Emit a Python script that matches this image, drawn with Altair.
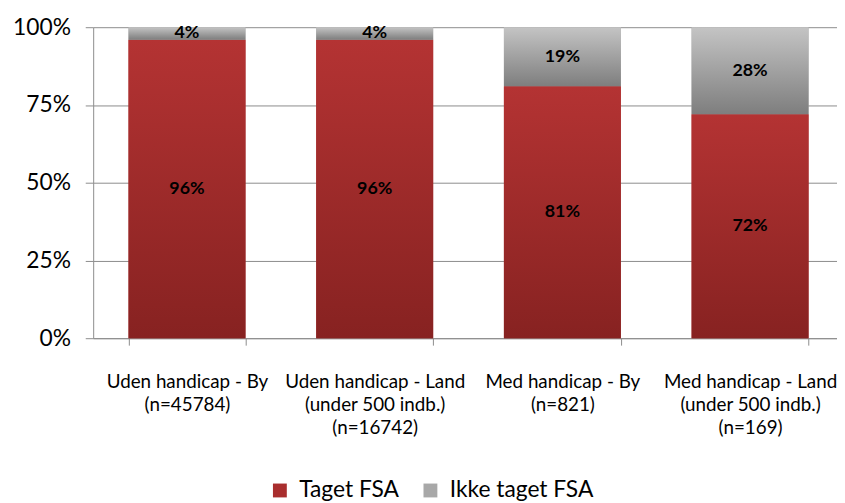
import altair as alt
import pandas as pd

# ---- data ----
categories = [
    "Uden handicap - By|(n=45784)",
    "Uden handicap - Land|(under 500 indb.)|(n=16742)",
    "Med handicap - By|(n=821)",
    "Med handicap - Land|(under 500 indb.)|(n=169)",
]
series = ["Taget FSA", "Ikke taget FSA"]
taget_fsa = [96, 96, 81, 72]
ikke_taget_fsa = [4, 4, 19, 28]
y_ticks = [0, 0.25, 0.5, 0.75, 1.0]

rows = []
for i, c in enumerate(categories):
    rows.append({"kategori": c, "serie": series[0], "andel": taget_fsa[i] / 100, "orden": 0})
    rows.append({"kategori": c, "serie": series[1], "andel": ikke_taget_fsa[i] / 100, "orden": 1})
df = pd.DataFrame(rows)

FONT = "Lato"
AXIS_GREY = "#8C8C8C"

base = (
    alt.Chart(df)
    .transform_stack(stack="andel", groupby=["kategori"], as_=["y0", "y1"],
                     sort=[alt.SortField("orden", order="ascending")])
    .transform_calculate(mid="(datum.y0 + datum.y1) / 2")
)

# the original chart is cut off at the right edge: the band scale keeps the
# reference step and pushes the last category partly beyond the view
x_enc = alt.X(
    "kategori:N",
    sort=categories,
    scale=alt.Scale(paddingInner=0.377, paddingOuter=0.170, align=0.554),
    axis=alt.Axis(
        title=None,
        labelExpr="split(datum.label, '|')",
        labelAngle=0,
        labelFont=FONT,
        labelFontSize=19,
        labelLineHeight=23,
        labelColor="#000000",
        labelPadding=28,
        labelLimit=0,
        tickBand="extent",
        tickSize=7,
        tickColor=AXIS_GREY,
        domainColor=AXIS_GREY,
        grid=False,
    ),
)
y_scale = alt.Scale(domain=[0, 1], nice=False)

legend_layer = base.mark_bar().encode(
    x=x_enc,
    y=alt.Y(
        "y0:Q",
        scale=y_scale,
        axis=alt.Axis(
            title=None,
            format=".0%",
            values=y_ticks,
            grid=True,
            gridColor=AXIS_GREY,
            domainColor=AXIS_GREY,
            tickColor=AXIS_GREY,
            tickSize=8,
            labelPadding=15,
            labelFont=FONT,
            labelFontSize=23,
            labelColor="#000000",
        ),
    ),
    y2="y1:Q",
    color=alt.Color(
        "serie:N",
        sort=series,
        scale=alt.Scale(domain=series, range=["#A92E2E", "#A8A8A8"]),
        legend=alt.Legend(
            title=None,
            orient="none",
            legendX=177,
            legendY=456,
            direction="horizontal",
            symbolType="square",
            symbolSize=196,
            symbolStrokeWidth=0,
            labelFont=FONT,
            labelFontSize=23,
            labelColor="#000000",
            labelOffset=8,
            columnPadding=20,
            padding=0,
        ),
    ),
)

red_grad = alt.LinearGradient(
    gradient="linear",
    stops=[alt.GradientStop(color="#B43333", offset=0),
           alt.GradientStop(color="#872221", offset=1)],
    x1=0, x2=0, y1=0, y2=1,
)
grey_grad = alt.LinearGradient(
    gradient="linear",
    stops=[alt.GradientStop(color="#C4C4C4", offset=0),
           alt.GradientStop(color="#7E7E7E", offset=1)],
    x1=0, x2=0, y1=0, y2=1,
)

red_layer = base.transform_filter(alt.datum.serie == series[0]).mark_bar(fill=red_grad).encode(
    x=x_enc, y=alt.Y("y0:Q", scale=y_scale), y2="y1:Q"
)
grey_layer = base.transform_filter(alt.datum.serie == series[1]).mark_bar(fill=grey_grad).encode(
    x=x_enc, y=alt.Y("y0:Q", scale=y_scale), y2="y1:Q"
)

text_layer = base.mark_text(font=FONT, fontSize=18, fontWeight="bold", color="#000000").encode(
    x=x_enc,
    y=alt.Y("mid:Q", scale=y_scale),
    text=alt.Text("andel:Q", format=".0%"),
)

chart = (
    alt.layer(legend_layer, red_layer, grey_layer, text_layer)
    .properties(
        width=751,
        height=314,
        autosize=alt.AutoSizeParams(type="none"),
        padding={"left": 86, "top": 17, "right": 0, "bottom": 164},
        background="#FFFFFF",
    )
    .configure_view(stroke=None)
)

chart.save("out.html", embed_options={"renderer": "svg", "actions": False})
